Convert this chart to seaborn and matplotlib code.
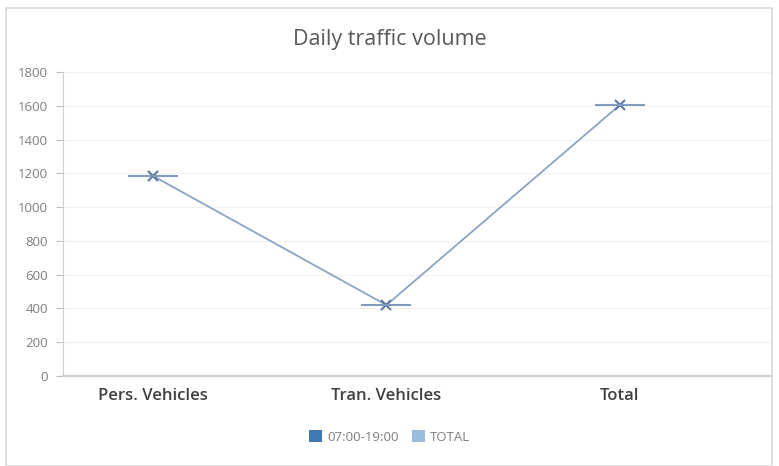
import matplotlib
matplotlib.use('Agg')
import matplotlib.pyplot as plt
import seaborn as sns
import pandas as pd
from matplotlib.patches import Patch, Rectangle

categories = ['Pers. Vehicles', 'Tran. Vehicles', 'Total']
volume = [1185, 420, 1605]
y_ticks = [0, 200, 400, 600, 800, 1000, 1200, 1400, 1600, 1800]
legend_labels = ['07:00-19:00', 'TOTAL']

sns.set_style('white')
plt.rcParams['font.family'] = ['Open Sans', 'DejaVu Sans']

df = pd.DataFrame({'pos': range(len(categories)), 'volume': volume})

fig = plt.figure(figsize=(7.79, 4.66), dpi=100)
ax = fig.add_axes([63 / 779, 1 - 376 / 466, (771 - 63) / 779, (376 - 72) / 466])

# chart frame
fig.patches.append(Rectangle((6 / 779, 0), 766 / 779, 1 - 8 / 466, transform=fig.transFigure,
                             fill=False, edgecolor='#d9d9d9', linewidth=1.2))

sns.lineplot(data=df, x='pos', y='volume', ax=ax, color='#8aa4c4', linewidth=1.3,
             marker='x', markersize=7, markeredgecolor='#5a78a4', markeredgewidth=1.5)
sns.scatterplot(data=df, x='pos', y='volume', ax=ax, marker='_', s=1250,
                color='#7f9bbf', linewidth=1.5, zorder=3)

ax.set_xlim(-0.385, 2.647)
ax.set_ylim(0, 1800)
ax.set_yticks(y_ticks)
ax.set_yticklabels([str(v) for v in y_ticks], fontsize=9.5, color='#7f7f7f')
ax.set_xticks(range(len(categories)))
ax.set_xticklabels(categories, fontsize=12, color='#404040', fontweight='semibold')
ax.tick_params(axis='x', length=0, pad=9)
ax.tick_params(axis='y', length=5, width=0.8, color='#bfbfbf', direction='out', left=True, pad=6)
ax.set_xlabel('')
ax.set_ylabel('')
ax.grid(axis='y', color='#f2f2f2', linewidth=0.8)

for side in ['top', 'right']:
    ax.spines[side].set_visible(False)
ax.spines['left'].set_color('#d0d0d0')
ax.spines['bottom'].set_color('#cfcfcf')
ax.spines['bottom'].set_linewidth(1.6)

fig.text(0.5, 1 - 40 / 466, 'Daily traffic volume', ha='center', va='center',
         fontsize=15.5, color='#595959')

handles = [Patch(facecolor='#3f78b5', edgecolor='none'),
           Patch(facecolor='#9dbbdd', edgecolor='none')]
fig.legend(handles, legend_labels, loc='center', bbox_to_anchor=(0.5, 1 - 437 / 466),
           ncol=2, frameon=False, fontsize=9.5, labelcolor='#7f7f7f',
           handlelength=1.0, handleheight=1.0, handletextpad=0.4, columnspacing=1.0)

fig.savefig('out.png', dpi=100, facecolor='white')
